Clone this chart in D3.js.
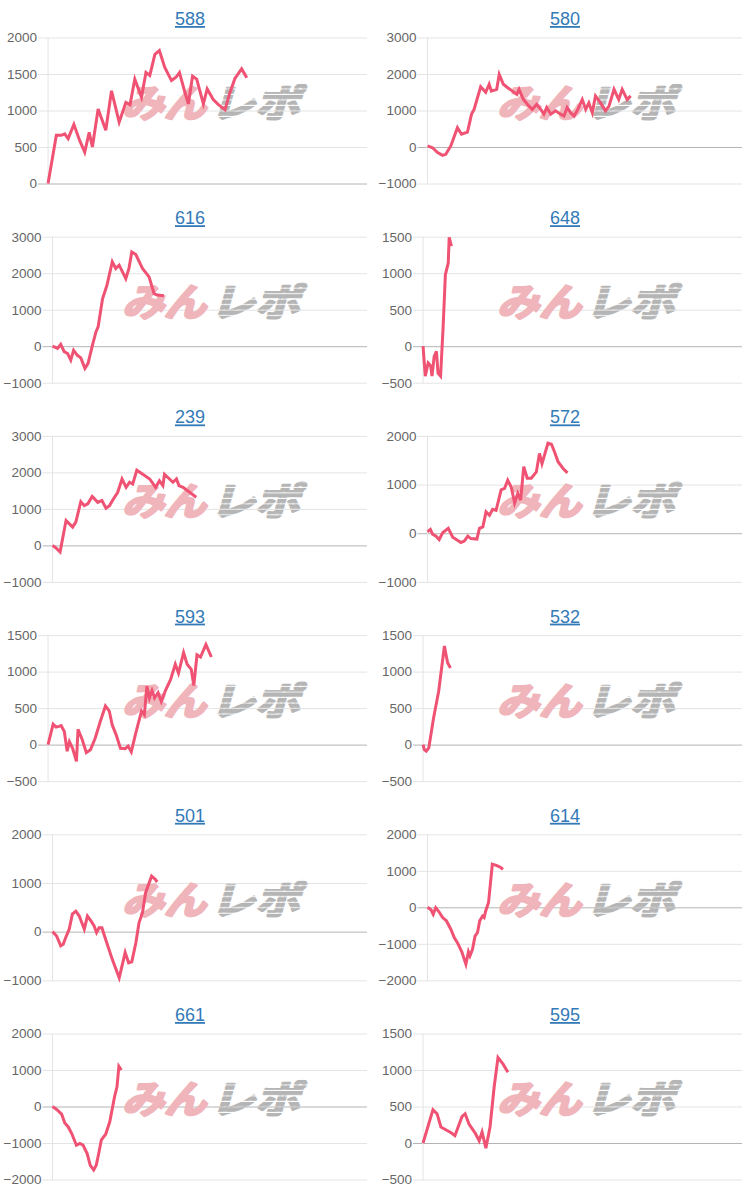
<!DOCTYPE html>
<html><head><meta charset="utf-8">
<script src="https://cdn.jsdelivr.net/npm/d3@7"></script>
<style>
html,body{margin:0;padding:0;background:#fff;}
svg{display:block;}
</style></head>
<body>
<svg id="chart" width="750" height="1191"></svg>
<script>
// ---------------- data ----------------
const titles = ["588","580","616","648","239","572","593","532","501","614","661","595"];

const ticks588 = [0,500,1000,1500,2000];
const ticks580 = [-1000,0,1000,2000,3000];
const ticks616 = [-1000,0,1000,2000,3000];
const ticks648 = [-500,0,500,1000,1500];
const ticks239 = [-1000,0,1000,2000,3000];
const ticks572 = [-1000,0,1000,2000];
const ticks593 = [-500,0,500,1000,1500];
const ticks532 = [-500,0,500,1000,1500];
const ticks501 = [-1000,0,1000,2000];
const ticks614 = [-2000,-1000,0,1000,2000];
const ticks661 = [-2000,-1000,0,1000,2000];
const ticks595 = [-500,0,500,1000,1500];

// [x (0..100 of the game axis), value]
const s588 = [[0,0],[2.6,660],[4.2,660],[5.2,680],[6.3,615],[8.1,810],[9.9,590],[11.5,430],[12.9,700],[13.9,500],[15.7,1020],[18.1,730],[19.9,1270],[22.3,840],[24.4,1110],[25.7,1080],[27.2,1430],[29.3,1180],[30.7,1520],[31.9,1480],[33.5,1770],[34.9,1820],[36.6,1590],[38.7,1410],[40.1,1455],[41.2,1520],[42.9,1250],[44,1090],[45.3,1470],[46.6,1430],[48.7,1090],[49.9,1295],[51.8,1150],[53.4,1080],[55.5,1010],[56.9,1230],[58.6,1440],[60.7,1570],[62.3,1450]];
const s580 = [[0,30],[1.6,-20],[3.2,-150],[4.8,-230],[5.8,-200],[7.4,30],[9.5,530],[10.8,350],[12.7,410],[14,900],[14.8,1030],[16.9,1650],[18.5,1500],[19.6,1720],[20.3,1530],[22,1580],[22.8,1990],[24.1,1720],[25.4,1630],[27,1530],[28.4,1440],[29.1,1580],[30.5,1300],[32.3,1120],[33.3,1030],[34.7,1170],[36,1030],[37,900],[37.9,1080],[39.2,900],[40.7,990],[42.3,900],[43.4,850],[44.4,1080],[45.5,940],[46.6,850],[47.8,1030],[49.2,1300],[50.3,1030],[51.3,1210],[52.4,940],[53.4,1400],[55,1210],[56.6,990],[57.7,1120],[59.3,1580],[60.8,1300],[61.9,1580],[63.5,1300],[64.6,1400]];
const s616 = [[0,0],[1.6,-60],[2.6,50],[3.7,-150],[4.8,-200],[5.8,-380],[6.7,-110],[7.9,-250],[9,-320],[10.3,-610],[11.3,-470],[12.7,30],[13.8,390],[14.5,530],[15.9,1300],[17.3,1670],[19,2310],[20.1,2130],[21.2,2220],[23.3,1850],[24.3,2130],[25.2,2580],[26.5,2510],[28.6,2130],[30.7,1900],[32.3,1440],[33.3,1400],[35.4,1380]];
const s648 = [[0,0],[0.7,-410],[1.6,-230],[2.4,-270],[2.8,-410],[3.5,-140],[4.2,-70],[4.7,-370],[5.5,-410],[6.3,270],[7,980],[7.9,1140],[8.2,1490],[8.9,1370]];
const s239 = [[0,0],[1.1,-70],[2.4,-180],[4.3,680],[6.4,500],[7.4,640],[9,1200],[10.1,1090],[11.2,1140],[12.6,1340],[14.4,1180],[15.7,1230],[17,1020],[18.1,1090],[19.7,1320],[20.7,1450],[22.1,1820],[23.4,1590],[24.5,1730],[25.5,1680],[26.8,2060],[28.7,1950],[30.9,1820],[32.8,1590],[34,1770],[35.1,1640],[35.6,1950],[37.2,1820],[38.3,1730],[39.4,1820],[40.2,1640],[41.5,1590],[45.7,1320]];
const s572 = [[0,30],[0.9,80],[1.6,-20],[2.7,-60],[3.7,-130],[4.8,10],[6.6,100],[8,-80],[9.4,-140],[10.6,-190],[11.7,-160],[12.8,-60],[13.8,-110],[15.7,-120],[16.5,100],[17.6,130],[18.6,440],[19.7,370],[20.7,490],[21.8,470],[23.4,890],[24.5,920],[25.5,1090],[26.6,950],[27.7,620],[28.7,820],[29.6,680],[30.6,1370],[31.7,1130],[33,1130],[34.6,1260],[35.6,1640],[36.4,1430],[38.3,1850],[39.4,1830],[40.4,1670],[41.5,1470],[43.1,1330],[44.5,1240]];
const s593 = [[0,0],[1.6,280],[2.5,240],[3.4,250],[4.1,260],[5.1,180],[6,-90],[6.7,40],[7.7,-50],[8.9,-230],[9.4,210],[10.7,70],[12,-110],[13.3,-70],[14.8,90],[16.4,320],[18,530],[19.2,460],[20.1,270],[21.3,140],[22.7,-50],[24.2,-55],[25.1,-20],[26.1,-100],[27.4,140],[29.3,460],[30.2,410],[31,800],[31.8,640],[32.6,740],[33.4,640],[34.5,710],[35.5,590],[36.8,740],[38.4,890],[39.9,1100],[40.9,980],[42.5,1260],[43.6,1100],[44.9,1030],[45.7,810],[46.7,1230],[47.8,1200],[49.5,1370],[51.2,1200]];
const s532 = [[0,0],[0.4,-70],[1,-90],[1.8,-45],[3.3,365],[4.9,730],[6.7,1350],[7.3,1210],[7.7,1120],[8.6,1050]];
const s501 = [[0,0],[1.3,-90],[2.6,-290],[3.4,-260],[4.2,-120],[5.3,50],[6.3,360],[7.4,420],[8.5,320],[10.1,50],[11.1,320],[12.2,220],[13.2,120],[14,-20],[14.8,80],[15.7,80],[16.9,-160],[19,-570],[21.2,-950],[23.1,-430],[24.2,-640],[25.2,-620],[26.5,-230],[27.5,180],[28.6,390],[29.6,800],[31.5,1140],[32.6,1080],[33.3,1020]];
const s614 = [[0,0],[1.1,-70],[1.8,-190],[2.6,-10],[3.7,-130],[4.8,-280],[6,-370],[7.4,-600],[8.5,-830],[9.5,-970],[10.9,-1220],[12.2,-1560],[13,-1220],[13.5,-1330],[14.3,-1150],[15.1,-790],[15.9,-690],[16.6,-370],[17.5,-240],[18,-280],[18.5,-100],[19.4,130],[20.6,1180],[21.9,1150],[23.3,1090],[24,1040]];
const s661 = [[0,0],[1.3,-80],[2.9,-210],[3.9,-450],[5,-560],[6.1,-740],[7.6,-1060],[8.7,-1010],[9.7,-1060],[11,-1290],[12,-1610],[13.1,-1740],[13.9,-1610],[14.8,-1240],[15.5,-920],[16.9,-760],[18.2,-420],[19.7,260],[20.5,540],[21.1,1100],[21.9,1000]];
const s595 = [[0,0],[3.1,455],[4.4,400],[5.6,220],[8.8,140],[10,100],[12.2,360],[13.2,400],[14.4,260],[16.3,140],[17.6,30],[18.5,150],[19.7,-70],[21,220],[22.3,770],[23.5,1170],[25.1,1080],[26.6,970]];

const tickSets = [ticks588,ticks580,ticks616,ticks648,ticks239,ticks572,ticks593,ticks532,ticks501,ticks614,ticks661,ticks595];
const seriesSets = [s588,s580,s616,s648,s239,s572,s593,s532,s501,s614,s661,s595];

// ---------------- drawing ----------------
const svg = d3.select("#chart");
const colW = 375, rowH = 199.2;
const plotTop = 37.5, plotBottom = 183.5, plotRight = 367;
const labelFont = '13.5px "Liberation Sans", Arial, sans-serif';
const lineColor = "#ef5272";

const defs = svg.append("defs");
const pat = defs.append("pattern").attr("id","stripes")
  .attr("patternUnits","userSpaceOnUse").attr("width",8).attr("height",5.5);
pat.append("rect").attr("width",8).attr("height",4.3).attr("fill","#b5b5b5");

const xDomain = [0,100];

titles.forEach((title,i)=>{
  const col = i%2, row = Math.floor(i/2);
  const g = svg.append("g").attr("transform",`translate(${col*colW},${row*rowH})`);
  const ticks = tickSets[i];

  // measure widest tick label
  const meas = g.append("text").style("font",labelFont);
  let maxW = 0;
  ticks.forEach(t=>{ meas.text(String(t)); maxW = Math.max(maxW, meas.node().getComputedTextLength()); });
  meas.remove();
  const left = 7 + maxW + 11;

  const x = d3.scaleLinear().domain(xDomain).range([left, plotRight]);
  const y = d3.scaleLinear().domain(d3.extent(ticks)).range([plotBottom, plotTop]);

  // title
  g.append("text").attr("x",190).attr("y",25).attr("text-anchor","middle")
    .style("font",'18px "Liberation Sans", Arial, sans-serif')
    .style("fill","#337ab7").style("text-decoration","underline")
    .text(title);

  // grid + labels via axis
  const ax = g.append("g").attr("transform",`translate(${plotRight},0)`)
    .call(d3.axisLeft(y).tickValues(ticks).tickSize(plotRight-left+10).tickPadding(1).tickFormat(d3.format("d")));
  ax.select(".domain").remove();
  ax.selectAll(".tick line").attr("stroke", d=> d===0 ? "#b4b4b4" : "#e4e4e4").attr("stroke-width",1);
  ax.selectAll(".tick text").style("font",labelFont).attr("fill","#666");

  // vertical axis line
  g.append("line").attr("x1",left).attr("x2",left).attr("y1",plotTop).attr("y2",plotBottom+0.5)
    .attr("stroke","#e4e4e4");

  // watermark
  const wm = g.append("g").attr("transform","translate(122,117) skewX(-16)");
  wm.append("text").attr("x",0).attr("y",0)
    .attr("textLength",84).attr("lengthAdjust","spacingAndGlyphs")
    .style("font",'bold 38px "Noto Sans CJK JP", sans-serif')
    .attr("fill","#efb5bb").attr("stroke","#efb5bb").attr("stroke-width",2.6).attr("stroke-linejoin","round")
    .text("みん");
  wm.append("text").attr("x",88).attr("y",0)
    .attr("textLength",90).attr("lengthAdjust","spacingAndGlyphs")
    .style("font",'bold 38px "Noto Sans CJK JP", sans-serif')
    .attr("fill","url(#stripes)").attr("stroke","url(#stripes)").attr("stroke-width",2.6).attr("stroke-linejoin","round")
    .text("レポ");

  // line
  const line = d3.line().x(d=>x(d[0])).y(d=>y(d[1]));
  g.append("path").datum(seriesSets[i]).attr("d",line)
    .attr("fill","none").attr("stroke",lineColor).attr("stroke-width",3)
    .attr("stroke-linejoin","miter").attr("stroke-miterlimit",4);
});
</script>
</body></html>
